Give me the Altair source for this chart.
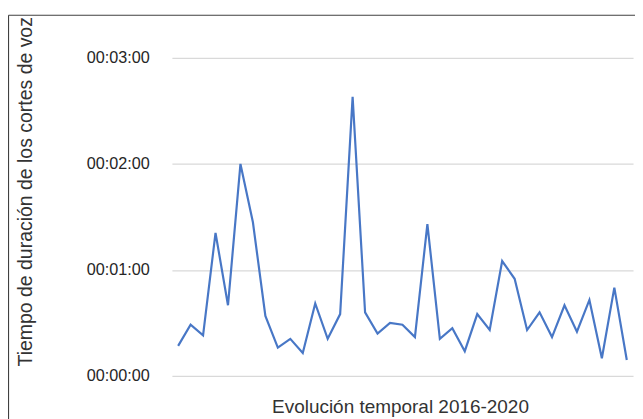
import altair as alt
import pandas as pd

# Duration of voice cuts, in seconds, over 37 periods (2016-2020)
periods = list(range(1, 38))
seconds = [17, 29, 23, 81, 40, 120, 87, 34, 16, 21, 13, 41, 21, 35, 158, 36,
           24, 30, 29, 22, 86, 21, 27, 14, 35, 26, 65, 55, 26, 36, 22, 40,
           25, 43, 10, 50, 9]
tick_values = [0, 60, 120, 180]

df = pd.DataFrame({"periodo": periods, "segundos": seconds})
frame_df = pd.DataFrame({"k": [0]})

label_expr = ("'00:' + (floor(datum.value/60) < 10 ? '0' : '') + floor(datum.value/60)"
              " + ':' + (datum.value % 60 < 10 ? '0' : '') + (datum.value % 60)")

line = alt.Chart(df).mark_line(color="#4877C6", strokeWidth=2.2).encode(
    x=alt.X("periodo:O",
            axis=alt.Axis(title="Evolución temporal 2016-2020", labels=False, ticks=False,
                          domain=False, grid=False, titleFontSize=19.2,
                          titleFontWeight="normal", titleColor="#333333",
                          titleX=231, titleY=31, titleBaseline="middle",
                          titleAlign="center", titleAnchor="middle")),
    y=alt.Y("segundos:Q",
            scale=alt.Scale(domain=[0, 180], nice=False),
            axis=alt.Axis(title="Tiempo de duración de los cortes de voz",
                          values=tick_values, labelExpr=label_expr,
                          labelFontSize=16.4, labelColor="#262626", labelPadding=23,
                          ticks=False, domain=False, grid=True,
                          gridColor="#d9d9d9", gridWidth=1.3,
                          titleFontSize=19.7, titleFontWeight="normal",
                          titleColor="#333333", titleAngle=-90,
                          titleX=-148, titleY=135, titleBaseline="middle",
                          titleAlign="center")),
)

frame_left = alt.Chart(frame_df).mark_rule(color="#404040", strokeWidth=1.2).encode(
    x=alt.value(-165.5), y=alt.value(-43.3), y2=alt.value(420)
)
frame_top = alt.Chart(frame_df).mark_rule(color="#404040", strokeWidth=1.2).encode(
    x=alt.value(-165.5), x2=alt.value(600), y=alt.value(-43.3)
)

chart = alt.layer(frame_left, frame_top, line).properties(
    width=467, height=322,
    padding={"left": 166, "top": 48, "right": 2, "bottom": 41},
    autosize=alt.AutoSizeParams(type="none"),
).configure(font="Liberation Sans").configure_view(stroke=None)

chart.save("out.html", embed_options={"renderer": "svg", "actions": False})
